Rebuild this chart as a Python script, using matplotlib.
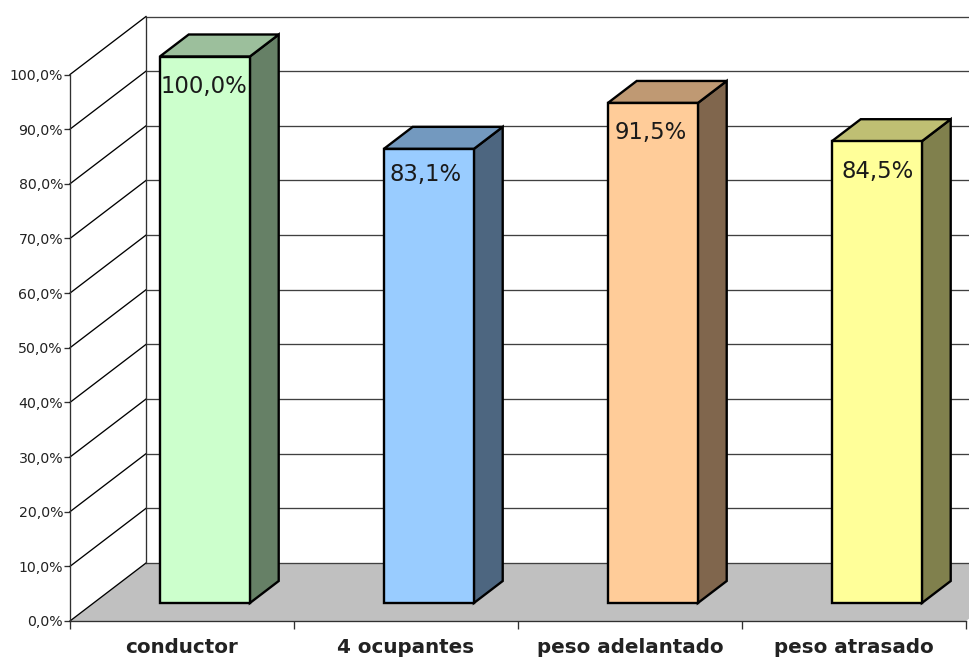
import matplotlib
matplotlib.use('Agg')
from matplotlib import pyplot as plt
from matplotlib.patches import Polygon

categories = ['conductor', '4 ocupantes', 'peso adelantado', 'peso atrasado']
values = [100.0, 83.1, 91.5, 84.5]
value_labels = ['100,0%', '83,1%', '91,5%', '84,5%']
front_colors = ['#CCFFCC', '#99CCFF', '#FFCC99', '#FFFF99']
top_colors = ['#9CBF9C', '#7399BF', '#BF9973', '#BFBF73']
side_colors = ['#668066', '#4D6680', '#80664D', '#80804D']
y_ticks = [0, 10, 20, 30, 40, 50, 60, 70, 80, 90, 100]
y_tick_labels = ['0,0%', '10,0%', '20,0%', '30,0%', '40,0%', '50,0%',
                 '60,0%', '70,0%', '80,0%', '90,0%', '100,0%']
label_dx = [-0.5, -3, -2.5, 0.5]
label_dy = [-30, -26, -30, -30]

W, H = 970, 657
LEFT, BOTTOM, PLOT_W, PLOT_H = 70, 621, 896, 546.5

# one data unit in pixels, used to turn the oblique depth into data offsets
X_PX = 4 / PLOT_W
Y_PX = 100 / PLOT_H
DEPTH_X = 76 * X_PX
DEPTH_Y = 58 * Y_PX
BAR_W = 90 * X_PX
BAR_FRONT = 18 / 58
BAR_BACK = 40 / 58
NUDGE_X = -0.7 * X_PX

fig = plt.figure(figsize=(W / 100, H / 100), dpi=100, facecolor='white')
ax = fig.add_axes([LEFT / W, (H - BOTTOM) / H, PLOT_W / W, PLOT_H / H])
ax.set_xlim(0, 4)
ax.set_ylim(0, 100)
ax.patch.set_visible(False)

# floor
ax.add_patch(Polygon([(0, 0), (4, 0), (4 + DEPTH_X, DEPTH_Y), (DEPTH_X, DEPTH_Y)],
                     facecolor='#C0C0C0', edgecolor='none', clip_on=False, zorder=1))

# back wall grid and oblique lines on the side wall
for v in y_ticks:
    ax.plot([DEPTH_X, 4 + DEPTH_X], [v + DEPTH_Y, v + DEPTH_Y], color='#404040',
            lw=0.95, clip_on=False, zorder=2)
    ax.plot([0, DEPTH_X], [v, v + DEPTH_Y], color='black', lw=0.95,
            clip_on=False, zorder=2)
ax.plot([DEPTH_X, DEPTH_X], [DEPTH_Y, 100 + DEPTH_Y], color='#303030', lw=0.95,
        clip_on=False, zorder=2)


def draw_bar(x, value, front, top, side):
    # offsets of the bar faces inside the floor depth
    fx, fy = DEPTH_X * BAR_FRONT + NUDGE_X, DEPTH_Y * BAR_FRONT
    bx, by = DEPTH_X * BAR_BACK + NUDGE_X, DEPTH_Y * BAR_BACK
    x0 = x - BAR_W / 2
    x1 = x + BAR_W / 2
    style = dict(edgecolor='black', lw=1.7, joinstyle='miter', clip_on=False, zorder=3)
    ax.add_patch(Polygon([(x1 + fx, fy), (x1 + bx, by), (x1 + bx, value + by), (x1 + fx, value + fy)],
                         facecolor=side, **style))
    ax.add_patch(Polygon([(x0 + fx, value + fy), (x1 + fx, value + fy), (x1 + bx, value + by), (x0 + bx, value + by)],
                         facecolor=top, **style))
    ax.add_patch(Polygon([(x0 + fx, fy), (x1 + fx, fy), (x1 + fx, value + fy), (x0 + fx, value + fy)],
                         facecolor=front, **style))
    return x + fx, value + fy


for i, value in enumerate(values):
    cx, top_y = draw_bar(i + 0.5, value, front_colors[i], top_colors[i], side_colors[i])
    ax.annotate(value_labels[i], (cx, top_y),
                xytext=(label_dx[i] * 0.72, label_dy[i] * 0.72), textcoords='offset points',
                ha='center', va='center', fontsize=16.4, color='#1a1a1a', zorder=4,
                annotation_clip=False)

for name in ['top', 'right']:
    ax.spines[name].set_visible(False)
for name in ['left', 'bottom']:
    ax.spines[name].set_linewidth(0.95)
    ax.spines[name].set_color('#303030')
    ax.spines[name].set_zorder(5)

ax.set_yticks(y_ticks)
ax.set_yticklabels(y_tick_labels)
ax.tick_params(axis='y', length=4, width=0.95, color='#303030', pad=1,
               labelsize=10.2, labelcolor='#222222')

ax.set_xticks([0, 1, 2, 3, 4])
ax.set_xticklabels([])
ax.tick_params(axis='x', which='major', length=6, width=0.95, color='#303030')
ax.set_xticks([0.5, 1.5, 2.5, 3.5], minor=True)
ax.set_xticklabels(categories, minor=True, fontweight='bold', fontsize=14.3, color='#222222')
ax.tick_params(axis='x', which='minor', length=0, pad=12)

plt.savefig('out.png', dpi=100)
